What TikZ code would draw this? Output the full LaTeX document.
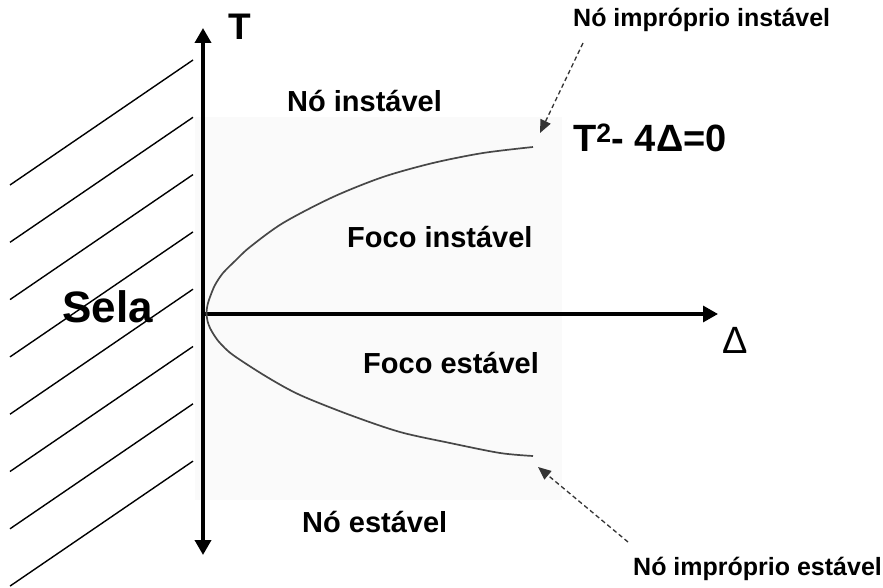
\documentclass[tikz,border=0pt]{standalone}
\usepackage{fontspec}
\setmainfont{Liberation Sans}
\usetikzlibrary{arrows.meta}
\begin{document}
\begin{tikzpicture}[x=1pt,y=-1pt,
  axis/.style={line width=3.6pt,-{Triangle[length=15pt,width=16pt]}},
  hatch/.style={line width=1.4pt,black},
  curve/.style={line width=1.7pt,black!72},
  pointer/.style={line width=1.3pt,black!80,dash pattern=on 4.5pt off 3pt,-{Triangle[length=13pt,width=11pt]}},
  lab/.style={anchor=base west,inner sep=0pt,font=\fontsize{29}{33}\selectfont\bfseries},
  small/.style={anchor=base west,inner sep=0pt,font=\fontsize{25}{28}\selectfont\bfseries}]
\useasboundingbox (0,0) rectangle (883,588);
\fill[black!2] (195,117) rectangle (562,500);
% hatching
\foreach \k in {0,...,7}{
  \draw[hatch] (10,185+57.3*\k) -- (193,60+57.3*\k);
}
% axes
\coordinate (O) at (203,314);
\coordinate (Ttop) at (203,28);
\coordinate (Tbot) at (203,555);
\coordinate (Dend) at (718,314);
\draw[axis] (O) -- (Ttop);
\draw[axis] (O) -- (Tbot);
\draw[axis,line width=3.2pt] (O) -- (Dend);
% parabola
\coordinate (up) at (533,147);
\coordinate (lo) at (533,456);
\draw[curve] plot[smooth,tension=0.5] coordinates {(533,147) (483,153) (433,163) (383,177) (333,197) (283,223) (250,247) (236,260) (223,273) (215,285) (210,297) (207.5,305) (206.5,313) (207.5,321) (210,328) (214,335) (220,343) (233,355) (267,377) (300,395) (350,415) (400,432) (450,443) (500,453) (533,456)};
% labels
\node[anchor=base west,inner sep=0pt,font=\fontsize{37}{40}\selectfont\bfseries] (T) at (228,40) {T};
\node[anchor=base west,inner sep=0pt,font=\fontsize{38}{40}\selectfont] (D) at (722,353) {Δ};
\node[anchor=base west,inner sep=0pt,font=\fontsize{38}{40}\selectfont\bfseries] (eq) at (573,152) {T\textsuperscript{2}- 4Δ=0};
\node[anchor=base west,inner sep=0pt,font=\fontsize{44}{48}\selectfont\bfseries] (sela) at (62,322) {Sela};
\node[lab] (ni) at (287,112) {Nó instável};
\node[lab] (fi) at (347,247) {Foco instável};
\node[lab] (fe) at (363,373) {Foco estável};
\node[lab] (ne) at (302,532) {Nó estável};
\node[small] (nii) at (573,27) {Nó impróprio instável};
\node[small] (nie) at (633,575) {Nó impróprio estável};
% pointers
\coordinate (a1) at (583,43);
\coordinate (t1) at (540,133);
\coordinate (a2) at (628,542);
\coordinate (t2) at (538,467);
\draw[pointer] (a1) -- (t1);
\draw[pointer] (a2) -- (t2);
\end{tikzpicture}
\end{document}
